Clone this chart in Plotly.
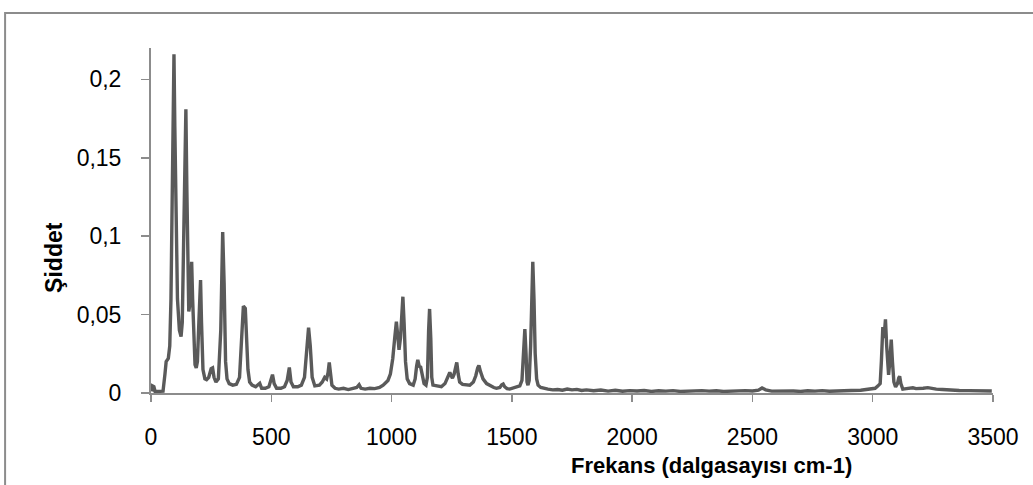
import plotly.graph_objects as go

# Raman-like spectrum values
wavenumber = [
    3, 6, 12, 17, 30, 50, 58, 63, 72, 78, 83, 88, 92, 95.5, 99, 104, 110, 118, 125, 130,
    136, 141, 145, 149, 153, 157, 160, 165, 169, 173, 178, 183, 188, 193, 199, 206, 210, 216,
    224, 231, 240, 250, 256, 262, 270, 280, 290, 298, 304, 310, 316, 325, 340, 355, 368, 376,
    384, 392, 397, 403, 410, 420, 435, 445, 452, 460, 475, 490, 498, 505, 512, 522, 540, 555,
    566, 575, 582, 592, 610, 625, 638, 648, 655, 662, 670, 681, 700, 712, 722, 730, 736, 741,
    746, 752, 765, 780, 800, 820, 840, 855, 865, 873, 890, 910, 930, 950, 965, 975, 985, 995,
    1005, 1013, 1020, 1026, 1031, 1037, 1042, 1047, 1052, 1058, 1065, 1075, 1090, 1098, 1104,
    1109, 1115, 1121, 1127, 1135, 1143, 1149, 1154, 1158, 1163, 1167, 1172, 1190, 1207, 1222,
    1234, 1242, 1248, 1253, 1260, 1266, 1271, 1277, 1283, 1295, 1310, 1325, 1340, 1350, 1358,
    1363, 1370, 1380, 1395, 1410, 1425, 1436, 1450, 1458, 1464, 1470, 1480, 1491, 1505, 1520,
    1533, 1542, 1548, 1554, 1559, 1563, 1567, 1572, 1578, 1583, 1587, 1592, 1597, 1603, 1609,
    1620, 1635, 1650, 1670, 1690, 1710, 1730, 1750, 1770, 1790, 1810, 1840, 1870, 1900, 1930,
    1960, 1990, 2020, 2050, 2080, 2110, 2140, 2170, 2200, 2230, 2260, 2290, 2320, 2350, 2380,
    2410, 2440, 2470, 2500, 2525, 2540, 2555, 2580, 2610, 2640, 2670, 2700, 2730, 2760, 2790,
    2820, 2850, 2880, 2910, 2950, 2980, 3000, 3010, 3021, 3031, 3036, 3042, 3047, 3053, 3058,
    3062, 3066, 3071, 3077, 3082, 3088, 3095, 3103, 3108, 3112, 3117, 3125, 3140, 3155, 3167,
    3180, 3195, 3210, 3229, 3245, 3264, 3290, 3320, 3360, 3400, 3440, 3470, 3495,
]
intensity = [
    0.001, 0.0045, 0.004, 0.001, 0.001, 0.0012, 0.012, 0.02, 0.022, 0.03, 0.06, 0.12, 0.18, 0.216, 0.17, 0.1, 0.06, 0.04, 0.036, 0.045,
    0.1, 0.16, 0.181, 0.13, 0.08, 0.052, 0.055, 0.08, 0.0837, 0.06, 0.03, 0.018, 0.016, 0.02, 0.045, 0.072, 0.045, 0.015,
    0.009, 0.0085, 0.01, 0.0155, 0.016, 0.01, 0.007, 0.009, 0.04, 0.1027, 0.07, 0.02, 0.009, 0.006, 0.005, 0.0055, 0.01, 0.03,
    0.0555, 0.054, 0.04, 0.015, 0.007, 0.005, 0.004, 0.005, 0.0062, 0.003, 0.003, 0.004, 0.008, 0.0117, 0.006, 0.003, 0.003, 0.004,
    0.008, 0.0163, 0.007, 0.004, 0.004, 0.005, 0.01, 0.03, 0.0417, 0.03, 0.01, 0.0045, 0.005, 0.007, 0.01, 0.009, 0.013, 0.0195,
    0.012, 0.005, 0.003, 0.0025, 0.003, 0.0022, 0.003, 0.0035, 0.0053, 0.003, 0.0025, 0.003, 0.0028, 0.0035, 0.005, 0.0066, 0.008, 0.012,
    0.022, 0.035, 0.0455, 0.036, 0.0275, 0.035, 0.052, 0.0614, 0.045, 0.02, 0.009, 0.006, 0.005, 0.009, 0.017,
    0.0212, 0.017, 0.0165, 0.012, 0.006, 0.005, 0.01, 0.04, 0.0536, 0.035, 0.01, 0.005, 0.0045, 0.004, 0.006,
    0.01, 0.0131, 0.011, 0.0095, 0.012, 0.0175, 0.0195, 0.012, 0.007, 0.0055, 0.005, 0.005, 0.007, 0.011, 0.016,
    0.0176, 0.0135, 0.009, 0.006, 0.0045, 0.0035, 0.003, 0.0035, 0.0052, 0.0057, 0.004, 0.0028, 0.0025, 0.003, 0.0035,
    0.0045, 0.008, 0.025, 0.0407, 0.025, 0.007, 0.005, 0.008, 0.03, 0.07, 0.0837, 0.06, 0.025, 0.009, 0.005,
    0.0035, 0.0028, 0.0025, 0.002, 0.0022, 0.0018, 0.0025, 0.002, 0.0023, 0.0016, 0.002, 0.0014, 0.0019, 0.0012, 0.0017,
    0.0011, 0.0015, 0.0013, 0.0016, 0.001, 0.0014, 0.0012, 0.0015, 0.001, 0.0013, 0.0011, 0.0015, 0.0012, 0.0014, 0.001,
    0.0013, 0.0011, 0.0015, 0.0013, 0.0018, 0.0032, 0.002, 0.0012, 0.0014, 0.0011, 0.0013, 0.001, 0.0014, 0.0012, 0.0015,
    0.0011, 0.0014, 0.0013, 0.0016, 0.0018, 0.0022, 0.0025, 0.003, 0.0044, 0.006, 0.02, 0.042, 0.035, 0.047, 0.03,
    0.015, 0.0116, 0.02, 0.034, 0.02, 0.007, 0.0038, 0.006, 0.0095, 0.0106, 0.006, 0.0025, 0.0028, 0.003, 0.0033,
    0.0028, 0.0027, 0.003, 0.0034, 0.0028, 0.0025, 0.0022, 0.0018, 0.0016, 0.0015, 0.0014, 0.0015, 0.0013,
]

x_ticks = [0, 500, 1000, 1500, 2000, 2500, 3000, 3500]
y_ticks = [0, 0.05, 0.1, 0.15, 0.2]
y_tick_labels = ["0", "0,05", "0,1", "0,15", "0,2"]
x_title = "Frekans (dalgasayısı cm-1)"
y_title = "Şiddet"

FONT = "Liberation Sans, Arial, sans-serif"
AXIS_COLOR = "#8c8c8c"

fig = go.Figure()
fig.add_trace(go.Scatter(
    x=wavenumber, y=intensity, mode="lines",
    line=dict(color="#5a5a5a", width=3.4),
    hoverinfo="skip", showlegend=False,
))

fig.update_layout(
    width=1033, height=485,
    margin=dict(l=151, r=40, t=48, b=92, autoexpand=False),
    paper_bgcolor="white", plot_bgcolor="white",
    font=dict(family=FONT, size=23, color="#000000"),
    showlegend=False,
)
fig.update_xaxes(
    range=[0, 3500], tickvals=x_ticks, ticktext=[str(v) for v in x_ticks],
    showgrid=False, zeroline=False, showline=True, linecolor=AXIS_COLOR, linewidth=2,
    ticks="outside", ticklen=7, tickwidth=1.5, tickcolor=AXIS_COLOR,
    ticklabelstandoff=15, tickfont=dict(size=23), automargin=False,
)
fig.update_yaxes(
    range=[0, 0.22], tickvals=y_ticks, ticktext=y_tick_labels,
    showgrid=False, zeroline=False, showline=True, linecolor=AXIS_COLOR, linewidth=2,
    ticks="outside", ticklen=8, tickwidth=1.5, tickcolor=AXIS_COLOR,
    ticklabelstandoff=15, tickfont=dict(size=23), automargin=False,
)

# axis titles
fig.add_annotation(
    text="<b>" + x_title + "</b>", xref="paper", yref="paper",
    x=(711.5 - 151) / 842.5, y=(393.3 - 466) / 345.3, showarrow=False,
    font=dict(size=22, family=FONT), xanchor="center", yanchor="middle",
)
fig.add_annotation(
    text="<b>" + y_title + "</b>", xref="paper", yref="paper",
    x=(54 - 151) / 842.5, y=(393.3 - 258) / 345.3, showarrow=False, textangle=-90,
    font=dict(size=23, family=FONT), xanchor="center", yanchor="middle",
)

# chart-area border
fig.add_shape(
    type="rect", xref="paper", yref="paper",
    x0=(5 - 151) / 842.5, x1=1.1, y0=-0.4, y1=(393.3 - 13) / 345.3,
    line=dict(color="#8c8c8c", width=2), fillcolor="rgba(0,0,0,0)", layer="below",
)

fig.write_html(
    "out.html",
    config={"displayModeBar": False, "staticPlot": True},
    post_script="document.body.style.margin='0';document.body.style.overflow='hidden';",
)
